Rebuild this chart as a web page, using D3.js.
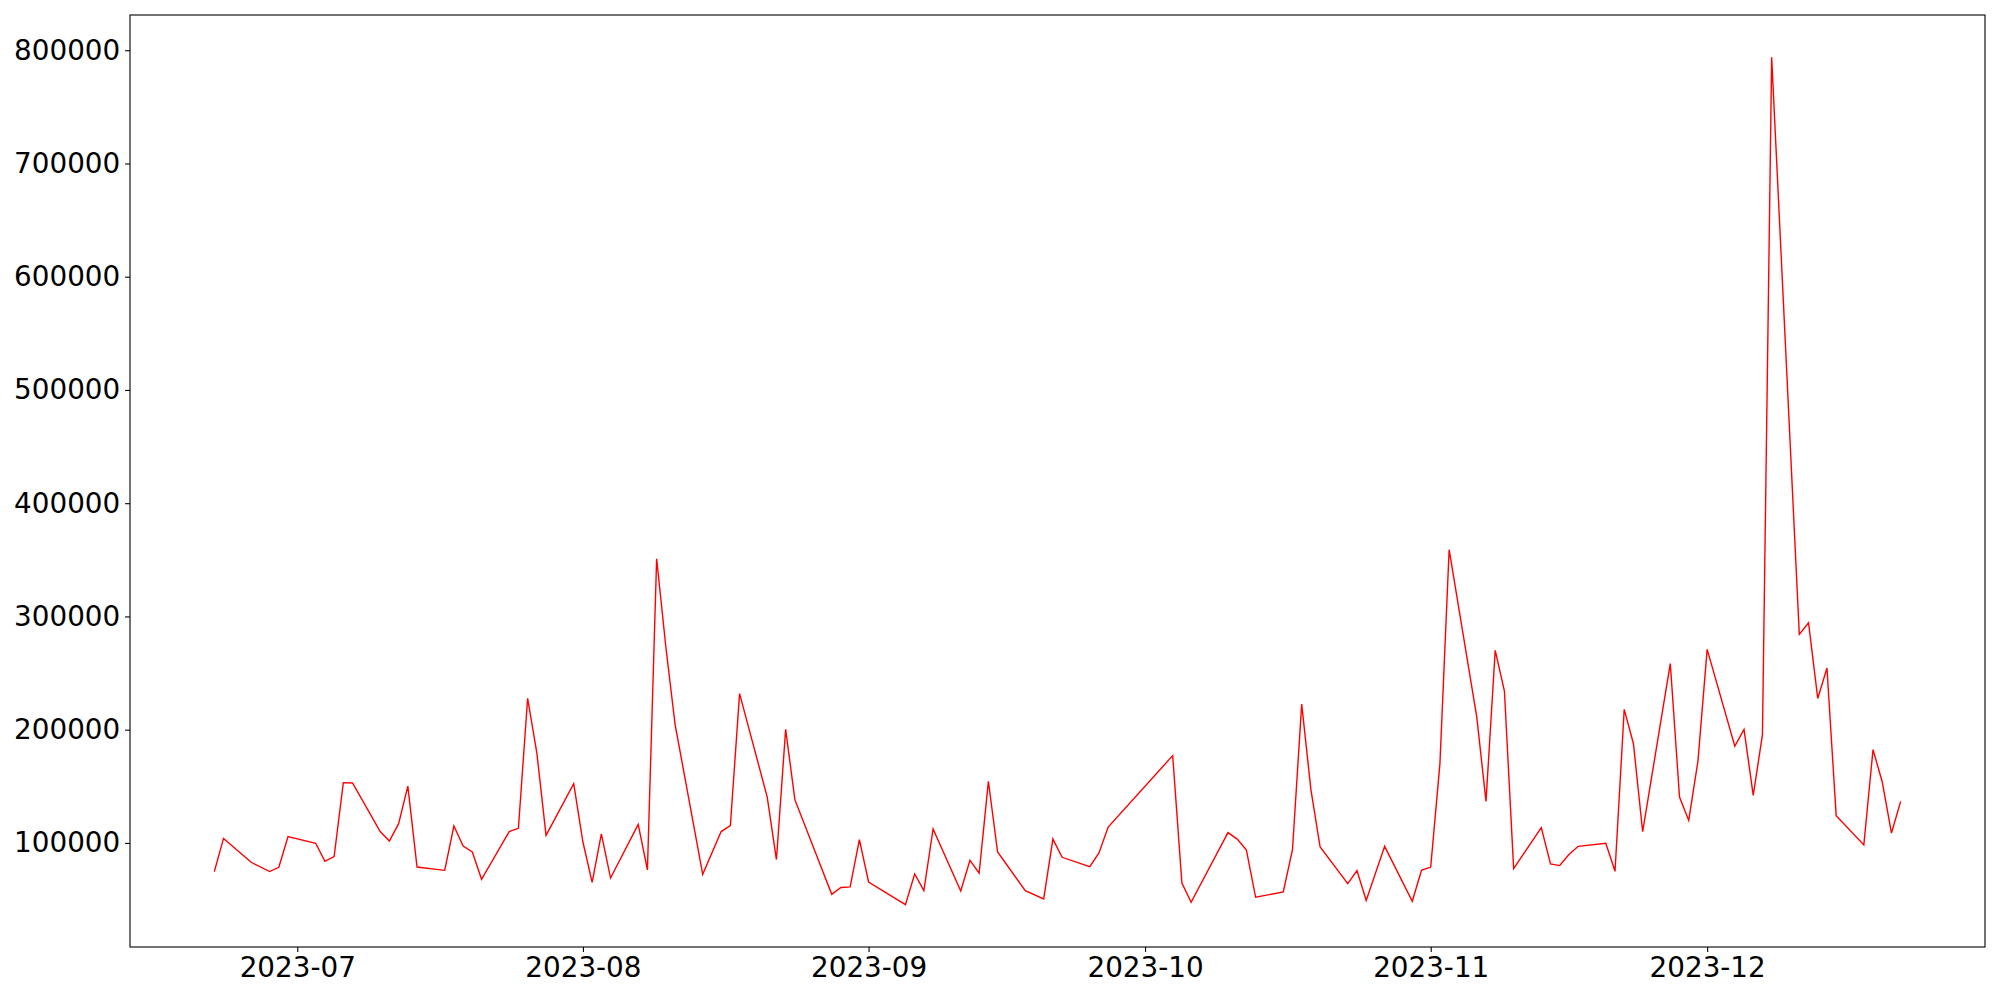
<!DOCTYPE html>
<html>
<head>
<meta charset="utf-8">
<script src="https://cdn.jsdelivr.net/npm/d3@7"></script>
<style>
    body { margin: 0; background: #fff; }
    .tick text { font-family: "DejaVu Sans", sans-serif; font-size: 27.8px; fill: #000; }
</style>
</head>
<body>
<div id="div-chart"></div>
<script>
/**
 * Data (business days, some missing).
 */
var dates = [
    "2023-06-22", "2023-06-23", "2023-06-26", "2023-06-28", "2023-06-29", "2023-06-30",
    "2023-07-03", "2023-07-04", "2023-07-05", "2023-07-06", "2023-07-07",
    "2023-07-10", "2023-07-11", "2023-07-12", "2023-07-13", "2023-07-14",
    "2023-07-17", "2023-07-18", "2023-07-19", "2023-07-20", "2023-07-21",
    "2023-07-24", "2023-07-25", "2023-07-26", "2023-07-27", "2023-07-28",
    "2023-07-31", "2023-08-01", "2023-08-02", "2023-08-03", "2023-08-04",
    "2023-08-07", "2023-08-08", "2023-08-09", "2023-08-10", "2023-08-11",
    "2023-08-14", "2023-08-16", "2023-08-17", "2023-08-18",
    "2023-08-21", "2023-08-22", "2023-08-23", "2023-08-24",
    "2023-08-28", "2023-08-29", "2023-08-30", "2023-08-31", "2023-09-01",
    "2023-09-05", "2023-09-06", "2023-09-07", "2023-09-08",
    "2023-09-11", "2023-09-12", "2023-09-13", "2023-09-14", "2023-09-15",
    "2023-09-18", "2023-09-20", "2023-09-21", "2023-09-22",
    "2023-09-25", "2023-09-26", "2023-09-27",
    "2023-10-04", "2023-10-05", "2023-10-06",
    "2023-10-10", "2023-10-11", "2023-10-12", "2023-10-13",
    "2023-10-16", "2023-10-17", "2023-10-18", "2023-10-19", "2023-10-20",
    "2023-10-23", "2023-10-24", "2023-10-25", "2023-10-27",
    "2023-10-30", "2023-10-31", "2023-11-01", "2023-11-02", "2023-11-03",
    "2023-11-06", "2023-11-07", "2023-11-08", "2023-11-09", "2023-11-10",
    "2023-11-13", "2023-11-14", "2023-11-15", "2023-11-16", "2023-11-17",
    "2023-11-20", "2023-11-21", "2023-11-22", "2023-11-23", "2023-11-24",
    "2023-11-27", "2023-11-28", "2023-11-29", "2023-11-30", "2023-12-01",
    "2023-12-04", "2023-12-05", "2023-12-06", "2023-12-07", "2023-12-08",
    "2023-12-11", "2023-12-12", "2023-12-13", "2023-12-14", "2023-12-15",
    "2023-12-18", "2023-12-19", "2023-12-20", "2023-12-21", "2023-12-22"
];

var values = [
    74700, 104000, 82900, 74700, 78500, 105600,
    99700, 83800, 87900, 153200, 152900,
    110000, 101700, 117000, 150200, 78700,
    75800, 114900, 97300, 92000, 67900,
    110000, 112900, 227600, 179400, 106700,
    152300, 100800, 65200, 107900, 69000,
    116400, 76100, 350900, 273000, 204700,
    72300, 110000, 115300, 231800,
    140500, 85300, 200300, 138200,
    54600, 60600, 61200, 102900, 65500,
    45500, 72600, 57900, 112300,
    57600, 84600, 73400, 154400, 92000,
    57900, 50500, 103400, 87300,
    79100, 91100, 114000,
    177100, 64600, 47600,
    109100, 103400, 93700, 52000,
    56700, 94000, 222600, 147000, 96400,
    64100, 75600, 49100, 97000,
    48500, 75800, 78700, 170000, 358900,
    211100, 136700, 270000, 234100, 77300,
    113500, 81400, 80000, 89700, 97000,
    99700, 74900, 217900, 187600, 110000,
    258300, 140500, 119900, 172300, 270900,
    185500, 200300, 142000, 195600, 793700,
    284100, 294400, 227600, 254400, 124100,
    98200, 182400, 153800, 108700, 136700
];

var yTicks = [100000, 200000, 300000, 400000, 500000, 600000, 700000, 800000];

var width = 2000;
var height = 1000;

var margin = {
    top: 15,
    right: 15,
    bottom: 53,
    left: 130
};

var parseDate = d3.timeParse("%Y-%m-%d");
var data = dates.map((d, i) => ({ date: parseDate(d), value: values[i] }));

// matplotlib style 5% padding on both axes
var xExt = d3.extent(data, d => d.date);
var xPad = (xExt[1] - xExt[0]) * 0.05;
var yExt = d3.extent(data, d => d.value);
var yPad = (yExt[1] - yExt[0]) * 0.05;

var x = d3.scaleTime()
    .domain([new Date(+xExt[0] - xPad), new Date(+xExt[1] + xPad)])
    .range([margin.left, width - margin.right]);

var y = d3.scaleLinear()
    .domain([yExt[0] - yPad, yExt[1] + yPad])
    .range([height - margin.bottom, margin.top]);

var svg = d3.select("#div-chart").append("svg")
    .attr("width", width)
    .attr("height", height);

var xAxis = g => g
    .attr("transform", `translate(0,${height - margin.bottom})`)
    .call(d3.axisBottom(x)
        .ticks(d3.timeMonth.every(1))
        .tickFormat(d3.timeFormat("%Y-%m"))
        .tickSize(4.9)
        .tickPadding(4.9)
        .tickSizeOuter(0))
    .call(g => g.select(".domain").remove());

var yAxis = g => g
    .attr("transform", `translate(${margin.left},0)`)
    .call(d3.axisLeft(y)
        .tickValues(yTicks)
        .tickFormat(d3.format("d"))
        .tickSize(4.9)
        .tickPadding(4.9)
        .tickSizeOuter(0))
    .call(g => g.select(".domain").remove());

svg.append("g")
    .attr("class", "x-axis")
    .call(xAxis)
    .selectAll("line")
    .attr("stroke-width", 1.1);

svg.append("g")
    .attr("class", "y-axis")
    .call(yAxis)
    .selectAll("line")
    .attr("stroke-width", 1.1);

var line = d3.line()
    .x(d => x(d.date))
    .y(d => y(d.value));

svg.append("path")
    .datum(data)
    .attr("fill", "none")
    .attr("stroke", "#ff0000")
    .attr("stroke-width", 1.4)
    .attr("stroke-linejoin", "miter")
    .attr("d", line);

// frame around the plot area
svg.append("rect")
    .attr("x", margin.left)
    .attr("y", margin.top)
    .attr("width", width - margin.left - margin.right)
    .attr("height", height - margin.top - margin.bottom)
    .attr("fill", "none")
    .attr("stroke", "#000")
    .attr("stroke-width", 1.1);
</script>
</body>
</html>
